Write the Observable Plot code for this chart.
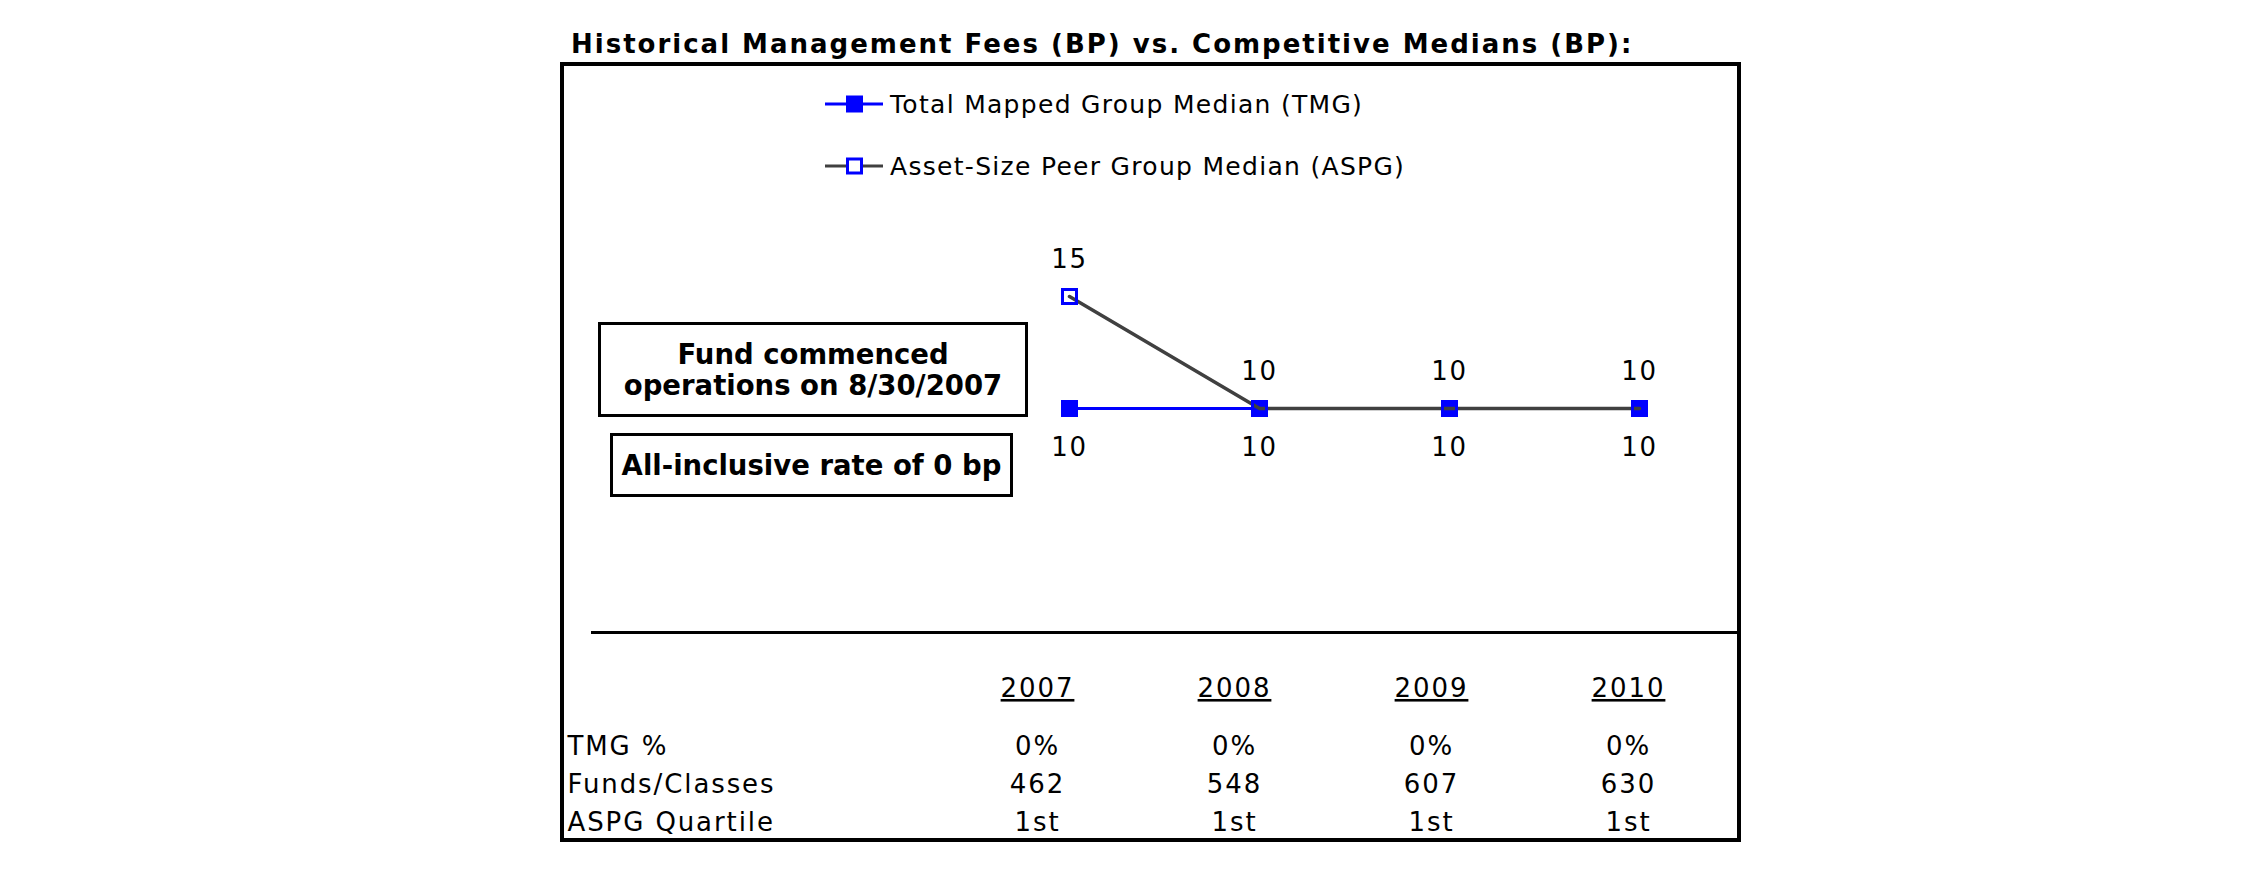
<!DOCTYPE html>
<html>
<head>
<meta charset="utf-8">
<script src="https://cdn.jsdelivr.net/npm/d3@7"></script>
<script src="https://cdn.jsdelivr.net/npm/@observablehq/plot@0.6"></script>
<style>
  html, body { margin: 0; padding: 0; background: #fff; }
  #root { position: relative; width: 2250px; height: 895px; background: #fff; font-family: "DejaVu Sans", Verdana, sans-serif; color: #000; overflow: hidden; }
  .abs { position: absolute; }
  #title { left: 571px; top: 29px; font-weight: bold; font-size: 26px; line-height: 30px; white-space: nowrap; letter-spacing: 2px; }
  #frame { left: 560px; top: 62px; width: 1181px; height: 780px; border: 4px solid #000; box-sizing: border-box; }
  .leg { left: 825px; height: 30px; display: flex; align-items: center; font-size: 25px; letter-spacing: 1.3px; white-space: nowrap; }
  .leg svg { margin-right: 7px; }
  .box { border: 3px solid #000; box-sizing: border-box; font-weight: bold; font-size: 27.5px; text-align: center; display: flex; flex-direction: column; justify-content: center; line-height: 31px; white-space: nowrap; }
  #chart, #table { position: absolute; left: 0; }
  #chart { top: 0; }
  #table { top: 650px; }
  #chart svg text { letter-spacing: 1.6px; }
  #table svg text { letter-spacing: 1.9px; }
  .yr text { text-decoration: underline; text-decoration-thickness: 3px; text-underline-offset: 5px; }
</style>
</head>
<body>
<div id="root">
  <div id="title" class="abs">Historical Management Fees (BP) vs. Competitive Medians (BP):</div>
  <div id="frame" class="abs"></div>
  <div id="chart"></div>
  <div id="table"></div>
  <div class="abs leg" style="top:89px">
    <svg width="58" height="20"><line x1="0" x2="58" y1="10" y2="10" stroke="#0000ff" stroke-width="3"/><rect x="21" y="1.5" width="17" height="17" fill="#0000ff"/></svg>
    <span>Total Mapped Group Median (TMG)</span>
  </div>
  <div class="abs leg" style="top:151px">
    <svg width="58" height="20"><line x1="0" x2="58" y1="10" y2="10" stroke="#404040" stroke-width="3"/><rect x="22.5" y="3" width="14" height="14" fill="#fff" stroke="#0000ff" stroke-width="3"/></svg>
    <span>Asset-Size Peer Group Median (ASPG)</span>
  </div>
  <div class="abs box" style="left:598px; top:322px; width:430px; height:95px;"><div>Fund commenced</div><div>operations on 8/30/2007</div></div>
  <div class="abs box" style="left:610px; top:433px; width:403px; height:64px;"><div>All-inclusive rate of 0 bp</div></div>
</div>
<script>
// ---- data ----
const years = ["2007", "2008", "2009", "2010"];
const tmgValues = [10, 10, 10, 10];
const aspgValues = [15, 10, 10, 10];
const rowLabels = ["TMG %", "Funds/Classes", "ASPG Quartile"];
const tmgPct = ["0%", "0%", "0%", "0%"];
const fundsClasses = [462, 548, 607, 630];
const aspgQuartile = ["1st", "1st", "1st", "1st"];

// ---- tables built from the arrays ----
const tmg = years.map((year, i) => ({year, value: tmgValues[i]}));
const aspg = years.map((year, i) => ({year, value: aspgValues[i]}));
const cells = [];
years.forEach((year, i) => {
  cells.push({year, row: rowLabels[0], value: tmgPct[i]});
  cells.push({year, row: rowLabels[1], value: String(fundsClasses[i])});
  cells.push({year, row: rowLabels[2], value: aspgQuartile[i]});
});

const font = {fontFamily: "DejaVu Sans, Verdana, sans-serif", background: "transparent", overflow: "visible", color: "#000"};

const chart = Plot.plot({
  width: 2250,
  height: 660,
  marginLeft: 591,
  marginRight: 2250 - 1737,
  marginTop: 0,
  marginBottom: 0,
  style: font,
  x: {type: "point", domain: years, range: [1068, 1640], padding: 0, axis: null},
  y: {domain: [0, 20], range: [632, 184], axis: null},
  marks: [
    Plot.ruleY([0], {stroke: "#000", strokeWidth: 3}),
    Plot.line(tmg, {x: "year", y: "value", stroke: "#0000ff", strokeWidth: 3}),
    Plot.dot(tmg, {x: "year", y: "value", symbol: "square", r: 9.6, fill: "#0000ff", stroke: "none"}),
    Plot.line(aspg, {x: "year", y: "value", stroke: "#404040", strokeWidth: 3.5}),
    Plot.dot(aspg, {x: "year", y: "value", symbol: "square", r: 7.9, fill: "none", stroke: "#0000ff", strokeWidth: 3}),
    Plot.text(aspg, {x: "year", y: "value", text: d => String(d.value), dy: -37, fontSize: 26, fill: "#000"}),
    Plot.text(tmg, {x: "year", y: "value", text: d => String(d.value), dy: 39, fontSize: 26, fill: "#000"})
  ]
});
document.getElementById("chart").appendChild(chart);

const table = Plot.plot({
  width: 2250,
  height: 245,
  marginLeft: 567,
  marginRight: 0,
  marginTop: 0,
  marginBottom: 0,
  style: font,
  x: {type: "point", domain: years, range: [1037, 1628], padding: 0, axis: null},
  y: {type: "point", domain: rowLabels, range: [96, 172], padding: 0, axis: null},
  marks: [
    Plot.text(years, {x: d => d, frameAnchor: "top", dy: 28, fontSize: 26, fill: "#000"}),
    Plot.text(rowLabels, {y: d => d, frameAnchor: "left", textAnchor: "start", fontSize: 26, fill: "#000"}),
    Plot.text(cells, {x: "year", y: "row", text: "value", fontSize: 26, fill: "#000"})
  ]
});
document.getElementById("table").appendChild(table);
// underline the year header row (first text mark)
d3.select(table).selectAll('g[aria-label="text"]').filter((d, i) => i === 0)
  .attr("class", "yr")
  .selectAll("text").style("text-decoration", "underline");
</script>
</body>
</html>
